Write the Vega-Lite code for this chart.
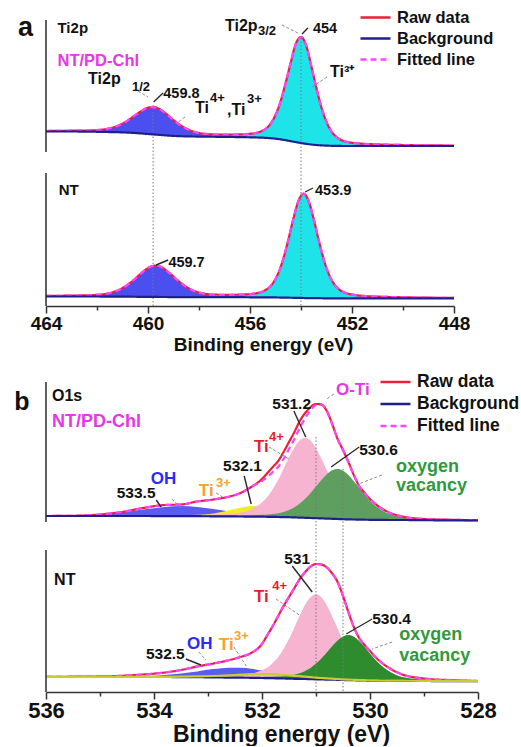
{
  "$schema": "https://vega.github.io/schema/vega-lite/v6.json",
  "padding": {"left": 14, "top": 9, "right": 0, "bottom": 0},
  "config": {
    "view": {"stroke": null},
    "axis": {"grid": false, "domainColor": "#333", "domainWidth": 1.5, "tickColor": "#333", "tickWidth": 1.5,
      "labelFont": "Liberation Sans", "labelFontWeight": "bold", "labelColor": "#111",
      "titleFont": "Liberation Sans", "titleFontWeight": "bold", "titleColor": "#111",
      "labelFlush": false, "labelOverlap": false},
    "legend": {"labelFont": "Liberation Sans", "labelFontWeight": "bold", "labelColor": "#111"}
  },
  "datasets": {
    "specA": [
      {"s":"NT/PD-Chl","e":464,"bg":174.5,"raw":175.0,"fit":175.0,"p1":174.9,"p2":174.6},
      {"s":"NT/PD-Chl","e":463,"bg":174.5,"raw":175.3,"fit":175.3,"p1":175.1,"p2":174.7},
      {"s":"NT/PD-Chl","e":462.2,"bg":174.3,"raw":175.6,"fit":175.6,"p1":175.4,"p2":174.5},
      {"s":"NT/PD-Chl","e":461.6,"bg":174.0,"raw":177.2,"fit":177.2,"p1":177.0,"p2":174.2},
      {"s":"NT/PD-Chl","e":461.2,"bg":173.8,"raw":180.0,"fit":180.0,"p1":179.7,"p2":174.1},
      {"s":"NT/PD-Chl","e":460.8,"bg":173.4,"raw":185.4,"fit":185.4,"p1":185.1,"p2":173.7},
      {"s":"NT/PD-Chl","e":460.4,"bg":172.8,"raw":192.6,"fit":192.6,"p1":192.3,"p2":173.1},
      {"s":"NT/PD-Chl","e":460.2,"bg":172.4,"raw":195.9,"fit":195.9,"p1":195.6,"p2":172.7},
      {"s":"NT/PD-Chl","e":460.0,"bg":172.0,"raw":198.3,"fit":198.3,"p1":198.0,"p2":172.3},
      {"s":"NT/PD-Chl","e":459.8,"bg":171.6,"raw":198.9,"fit":198.9,"p1":198.6,"p2":171.9},
      {"s":"NT/PD-Chl","e":459.6,"bg":171.2,"raw":197.6,"fit":197.6,"p1":197.2,"p2":171.6},
      {"s":"NT/PD-Chl","e":459.4,"bg":170.8,"raw":194.4,"fit":194.4,"p1":194.0,"p2":171.2},
      {"s":"NT/PD-Chl","e":459.2,"bg":170.4,"raw":190.3,"fit":190.3,"p1":189.9,"p2":170.8},
      {"s":"NT/PD-Chl","e":459.0,"bg":170.1,"raw":185.9,"fit":185.9,"p1":185.5,"p2":170.5},
      {"s":"NT/PD-Chl","e":458.6,"bg":169.7,"raw":178.7,"fit":178.7,"p1":178.1,"p2":170.3},
      {"s":"NT/PD-Chl","e":458.2,"bg":169.5,"raw":174.3,"fit":174.3,"p1":173.6,"p2":170.2},
      {"s":"NT/PD-Chl","e":457.6,"bg":169.3,"raw":171.8,"fit":171.8,"p1":170.8,"p2":170.3},
      {"s":"NT/PD-Chl","e":457.0,"bg":169.1,"raw":171.3,"fit":171.3,"p1":169.9,"p2":170.5},
      {"s":"NT/PD-Chl","e":456.4,"bg":168.9,"raw":171.6,"fit":171.6,"p1":169.5,"p2":171.0},
      {"s":"NT/PD-Chl","e":456.0,"bg":168.7,"raw":172.2,"fit":172.2,"p1":169.2,"p2":171.7},
      {"s":"NT/PD-Chl","e":455.6,"bg":168.4,"raw":174.3,"fit":174.3,"p1":168.8,"p2":173.9},
      {"s":"NT/PD-Chl","e":455.2,"bg":167.8,"raw":182.1,"fit":182.1,"p1":168.2,"p2":181.7},
      {"s":"NT/PD-Chl","e":455.0,"bg":167.3,"raw":191.0,"fit":191.0,"p1":167.6,"p2":190.7},
      {"s":"NT/PD-Chl","e":454.8,"bg":166.6,"raw":204.8,"fit":204.8,"p1":166.9,"p2":204.5},
      {"s":"NT/PD-Chl","e":454.6,"bg":165.8,"raw":223.3,"fit":223.3,"p1":166.1,"p2":223.0},
      {"s":"NT/PD-Chl","e":454.4,"bg":164.8,"raw":243.7,"fit":243.7,"p1":165.1,"p2":243.4},
      {"s":"NT/PD-Chl","e":454.2,"bg":163.9,"raw":262.5,"fit":262.5,"p1":164.2,"p2":262.2},
      {"s":"NT/PD-Chl","e":454.0,"bg":163.0,"raw":269.0,"fit":269.0,"p1":163.3,"p2":268.7},
      {"s":"NT/PD-Chl","e":453.8,"bg":162.2,"raw":260.8,"fit":260.8,"p1":162.5,"p2":260.5},
      {"s":"NT/PD-Chl","e":453.6,"bg":161.5,"raw":240.4,"fit":240.4,"p1":161.8,"p2":240.1},
      {"s":"NT/PD-Chl","e":453.4,"bg":161.0,"raw":218.5,"fit":218.5,"p1":161.3,"p2":218.2},
      {"s":"NT/PD-Chl","e":453.2,"bg":160.6,"raw":198.8,"fit":198.8,"p1":160.9,"p2":198.5},
      {"s":"NT/PD-Chl","e":453.0,"bg":160.4,"raw":184.1,"fit":184.1,"p1":160.7,"p2":183.8},
      {"s":"NT/PD-Chl","e":452.8,"bg":160.2,"raw":174.4,"fit":174.4,"p1":160.5,"p2":174.1},
      {"s":"NT/PD-Chl","e":452.6,"bg":160.1,"raw":168.8,"fit":168.8,"p1":160.3,"p2":168.6},
      {"s":"NT/PD-Chl","e":452.2,"bg":160.0,"raw":164.2,"fit":164.2,"p1":160.2,"p2":164.0},
      {"s":"NT/PD-Chl","e":451.6,"bg":160.0,"raw":162.3,"fit":162.3,"p1":160.2,"p2":162.1},
      {"s":"NT/PD-Chl","e":451.0,"bg":160.0,"raw":161.6,"fit":161.6,"p1":160.2,"p2":161.4},
      {"s":"NT/PD-Chl","e":450.0,"bg":160.0,"raw":161.0,"fit":161.0,"p1":160.2,"p2":160.8},
      {"s":"NT/PD-Chl","e":449.0,"bg":160.0,"raw":160.6,"fit":160.6,"p1":160.1,"p2":160.5},
      {"s":"NT/PD-Chl","e":448.0,"bg":160.0,"raw":160.5,"fit":160.5,"p1":160.1,"p2":160.4},
      {"s":"NT","e":464,"bg":9.5,"raw":10.1,"fit":10.1,"p1":10.0,"p2":9.6},
      {"s":"NT","e":463,"bg":9.5,"raw":10.4,"fit":10.4,"p1":10.2,"p2":9.7},
      {"s":"NT","e":462.1,"bg":9.5,"raw":11.0,"fit":11.0,"p1":10.8,"p2":9.7},
      {"s":"NT","e":461.5,"bg":9.4,"raw":13.0,"fit":13.0,"p1":12.8,"p2":9.6},
      {"s":"NT","e":461.1,"bg":9.4,"raw":16.5,"fit":16.5,"p1":16.2,"p2":9.7},
      {"s":"NT","e":460.7,"bg":9.3,"raw":23.0,"fit":23.0,"p1":22.7,"p2":9.6},
      {"s":"NT","e":460.3,"bg":9.2,"raw":31.9,"fit":31.9,"p1":31.6,"p2":9.5},
      {"s":"NT","e":460.1,"bg":9.2,"raw":36.1,"fit":36.1,"p1":35.8,"p2":9.5},
      {"s":"NT","e":459.9,"bg":9.1,"raw":39.3,"fit":39.3,"p1":39.0,"p2":9.4},
      {"s":"NT","e":459.7,"bg":9.1,"raw":40.4,"fit":40.4,"p1":40.1,"p2":9.4},
      {"s":"NT","e":459.5,"bg":9.0,"raw":39.3,"fit":39.3,"p1":38.9,"p2":9.4},
      {"s":"NT","e":459.3,"bg":9.0,"raw":35.9,"fit":35.9,"p1":35.6,"p2":9.3},
      {"s":"NT","e":459.1,"bg":8.9,"raw":31.7,"fit":31.7,"p1":31.3,"p2":9.3},
      {"s":"NT","e":458.9,"bg":8.9,"raw":27.0,"fit":27.0,"p1":26.6,"p2":9.3},
      {"s":"NT","e":458.5,"bg":8.9,"raw":19.1,"fit":19.1,"p1":18.5,"p2":9.5},
      {"s":"NT","e":458.1,"bg":8.8,"raw":14.2,"fit":14.2,"p1":13.5,"p2":9.5},
      {"s":"NT","e":457.5,"bg":8.8,"raw":11.5,"fit":11.5,"p1":10.5,"p2":9.8},
      {"s":"NT","e":456.9,"bg":8.8,"raw":11.1,"fit":11.1,"p1":9.7,"p2":10.2},
      {"s":"NT","e":456.3,"bg":8.8,"raw":11.5,"fit":11.5,"p1":9.4,"p2":10.9},
      {"s":"NT","e":455.9,"bg":8.7,"raw":12.2,"fit":12.2,"p1":9.2,"p2":11.7},
      {"s":"NT","e":455.5,"bg":8.7,"raw":14.6,"fit":14.6,"p1":9.1,"p2":14.2},
      {"s":"NT","e":455.1,"bg":8.6,"raw":22.9,"fit":22.9,"p1":9.0,"p2":22.5},
      {"s":"NT","e":454.9,"bg":8.5,"raw":32.3,"fit":32.3,"p1":8.9,"p2":31.9},
      {"s":"NT","e":454.7,"bg":8.4,"raw":46.7,"fit":46.7,"p1":8.8,"p2":46.3},
      {"s":"NT","e":454.5,"bg":8.3,"raw":65.9,"fit":65.9,"p1":8.7,"p2":65.5},
      {"s":"NT","e":454.3,"bg":8.2,"raw":87.2,"fit":87.2,"p1":8.6,"p2":86.8},
      {"s":"NT","e":454.1,"bg":8.1,"raw":105.1,"fit":105.1,"p1":8.4,"p2":104.8},
      {"s":"NT","e":453.9,"bg":8.0,"raw":112.3,"fit":112.3,"p1":8.3,"p2":112.0},
      {"s":"NT","e":453.7,"bg":7.9,"raw":104.9,"fit":104.9,"p1":8.2,"p2":104.6},
      {"s":"NT","e":453.5,"bg":7.8,"raw":86.7,"fit":86.7,"p1":8.1,"p2":86.4},
      {"s":"NT","e":453.3,"bg":7.8,"raw":65.3,"fit":65.3,"p1":8.1,"p2":65.0},
      {"s":"NT","e":453.1,"bg":7.7,"raw":45.9,"fit":45.9,"p1":8.0,"p2":45.6},
      {"s":"NT","e":452.9,"bg":7.7,"raw":31.4,"fit":31.4,"p1":8.0,"p2":31.1},
      {"s":"NT","e":452.7,"bg":7.7,"raw":21.9,"fit":21.9,"p1":8.0,"p2":21.6},
      {"s":"NT","e":452.5,"bg":7.7,"raw":16.5,"fit":16.5,"p1":8.0,"p2":16.2},
      {"s":"NT","e":452.1,"bg":7.7,"raw":12.0,"fit":12.0,"p1":8.0,"p2":11.7},
      {"s":"NT","e":451.5,"bg":7.7,"raw":10.0,"fit":10.0,"p1":7.9,"p2":9.8},
      {"s":"NT","e":450.9,"bg":7.7,"raw":9.3,"fit":9.3,"p1":7.9,"p2":9.1},
      {"s":"NT","e":450.0,"bg":7.7,"raw":8.7,"fit":8.7,"p1":7.9,"p2":8.5},
      {"s":"NT","e":449.0,"bg":7.7,"raw":8.3,"fit":8.3,"p1":7.8,"p2":8.2},
      {"s":"NT","e":448.0,"bg":7.7,"raw":8.2,"fit":8.2,"p1":7.8,"p2":8.1}
    ],
    "specB": [
      {"s":"NT/PD-Chl","e":536,"bg":176,"raw":176,"fit":176,"oh":176.4,"t3":176.1,"t4":176.2,"ov":176.2},
      {"s":"NT/PD-Chl","e":535.5,"bg":176,"raw":176.2,"fit":176.2,"oh":176.8,"t3":176.1,"t4":176.3,"ov":176.2},
      {"s":"NT/PD-Chl","e":535,"bg":176,"raw":177.5,"fit":177.5,"oh":177.9,"t3":176.1,"t4":176.4,"ov":176.2},
      {"s":"NT/PD-Chl","e":534.6,"bg":176,"raw":180,"fit":180,"oh":179.7,"t3":176.2,"t4":176.5,"ov":176.3},
      {"s":"NT/PD-Chl","e":534.2,"bg":176,"raw":184,"fit":184,"oh":182.5,"t3":176.2,"t4":176.6,"ov":176.3},
      {"s":"NT/PD-Chl","e":533.8,"bg":175.9,"raw":187,"fit":187,"oh":185.1,"t3":176.2,"t4":176.7,"ov":176.3},
      {"s":"NT/PD-Chl","e":533.5,"bg":175.9,"raw":187.5,"fit":187.5,"oh":185.9,"t3":176.4,"t4":176.9,"ov":176.4},
      {"s":"NT/PD-Chl","e":533.2,"bg":175.8,"raw":190.5,"fit":190.5,"oh":185.0,"t3":176.9,"t4":177.2,"ov":176.4},
      {"s":"NT/PD-Chl","e":532.9,"bg":175.7,"raw":192.5,"fit":192.5,"oh":183.0,"t3":178.6,"t4":177.5,"ov":176.4},
      {"s":"NT/PD-Chl","e":532.6,"bg":175.6,"raw":195.5,"fit":195.5,"oh":180.6,"t3":181.8,"t4":178.3,"ov":176.5},
      {"s":"NT/PD-Chl","e":532.4,"bg":175.5,"raw":199,"fit":199,"oh":179.2,"t3":184.3,"t4":179.3,"ov":176.6},
      {"s":"NT/PD-Chl","e":532.2,"bg":175.4,"raw":205,"fit":205,"oh":178.1,"t3":186.1,"t4":182.6,"ov":176.8},
      {"s":"NT/PD-Chl","e":532.0,"bg":175.3,"raw":213,"fit":211,"oh":177.2,"t3":186.0,"t4":189.7,"ov":177.2},
      {"s":"NT/PD-Chl","e":531.9,"bg":175.2,"raw":219,"fit":215,"oh":176.7,"t3":185.1,"t4":195.2,"ov":177.5},
      {"s":"NT/PD-Chl","e":531.8,"bg":175.1,"raw":225,"fit":220,"oh":176.4,"t3":183.9,"t4":203.1,"ov":178.0},
      {"s":"NT/PD-Chl","e":531.7,"bg":175.0,"raw":231,"fit":225,"oh":176.0,"t3":182.6,"t4":212.2,"ov":178.8},
      {"s":"NT/PD-Chl","e":531.6,"bg":174.9,"raw":240,"fit":233,"oh":175.8,"t3":181.1,"t4":223.3,"ov":180.1},
      {"s":"NT/PD-Chl","e":531.5,"bg":174.8,"raw":250,"fit":243,"oh":175.6,"t3":179.7,"t4":234.4,"ov":182.1},
      {"s":"NT/PD-Chl","e":531.4,"bg":174.6,"raw":260,"fit":253,"oh":175.3,"t3":178.3,"t4":244.6,"ov":184.8},
      {"s":"NT/PD-Chl","e":531.3,"bg":174.4,"raw":271,"fit":264,"oh":175.0,"t3":177.3,"t4":251.7,"ov":188.5},
      {"s":"NT/PD-Chl","e":531.2,"bg":174.2,"raw":279,"fit":274,"oh":174.7,"t3":176.3,"t4":254.2,"ov":193.3},
      {"s":"NT/PD-Chl","e":531.1,"bg":174.0,"raw":285,"fit":282,"oh":174.5,"t3":175.5,"t4":251.3,"ov":199.0},
      {"s":"NT/PD-Chl","e":531.0,"bg":173.8,"raw":288,"fit":287,"oh":174.3,"t3":174.9,"t4":243.8,"ov":205.4},
      {"s":"NT/PD-Chl","e":530.9,"bg":173.6,"raw":287.5,"fit":287.5,"oh":174.0,"t3":174.5,"t4":233.2,"ov":211.9},
      {"s":"NT/PD-Chl","e":530.8,"bg":173.4,"raw":281,"fit":281,"oh":173.8,"t3":174.1,"t4":221.8,"ov":217.7},
      {"s":"NT/PD-Chl","e":530.7,"bg":173.2,"raw":268,"fit":268,"oh":173.6,"t3":173.8,"t4":210.4,"ov":221.7},
      {"s":"NT/PD-Chl","e":530.6,"bg":173.0,"raw":253,"fit":253,"oh":173.4,"t3":173.5,"t4":201.0,"ov":223.0},
      {"s":"NT/PD-Chl","e":530.5,"bg":172.8,"raw":242,"fit":242,"oh":173.2,"t3":173.2,"t4":192.8,"ov":221.3},
      {"s":"NT/PD-Chl","e":530.4,"bg":172.6,"raw":230,"fit":230,"oh":172.9,"t3":173.0,"t4":187.0,"ov":216.9},
      {"s":"NT/PD-Chl","e":530.3,"bg":172.5,"raw":217,"fit":217,"oh":172.8,"t3":172.8,"t4":182.4,"ov":210.8},
      {"s":"NT/PD-Chl","e":530.2,"bg":172.4,"raw":206,"fit":206,"oh":172.7,"t3":172.7,"t4":179.6,"ov":204.0},
      {"s":"NT/PD-Chl","e":530.1,"bg":172.3,"raw":199,"fit":199,"oh":172.6,"t3":172.6,"t4":177.4,"ov":197.3},
      {"s":"NT/PD-Chl","e":530.0,"bg":172.2,"raw":193,"fit":193,"oh":172.5,"t3":172.5,"t4":176.0,"ov":191.3},
      {"s":"NT/PD-Chl","e":529.9,"bg":172.1,"raw":188,"fit":188,"oh":172.4,"t3":172.4,"t4":175.3,"ov":186.2},
      {"s":"NT/PD-Chl","e":529.8,"bg":172.1,"raw":184,"fit":184,"oh":172.4,"t3":172.3,"t4":174.8,"ov":182.3},
      {"s":"NT/PD-Chl","e":529.6,"bg":172.0,"raw":178.5,"fit":178.5,"oh":172.3,"t3":172.2,"t4":174.0,"ov":177.2},
      {"s":"NT/PD-Chl","e":529.4,"bg":172.0,"raw":175.5,"fit":175.5,"oh":172.2,"t3":172.2,"t4":173.6,"ov":174.9},
      {"s":"NT/PD-Chl","e":529.0,"bg":171.8,"raw":173,"fit":173,"oh":172.0,"t3":172.0,"t4":172.9,"ov":173.2},
      {"s":"NT/PD-Chl","e":528.5,"bg":171.6,"raw":172.2,"fit":172.2,"oh":171.8,"t3":171.7,"t4":172.4,"ov":172.4},
      {"s":"NT/PD-Chl","e":528.0,"bg":171.5,"raw":171.8,"fit":171.8,"oh":171.7,"t3":171.6,"t4":172.1,"ov":172.0},
      {"s":"NT","e":536,"bg":15,"raw":15.2,"fit":15.2,"oh":15.2,"t3":15.1,"t4":15.3,"ov":15.1},
      {"s":"NT","e":535.5,"bg":15,"raw":15.3,"fit":15.3,"oh":15.2,"t3":15.1,"t4":15.3,"ov":15.2},
      {"s":"NT","e":535,"bg":15,"raw":15.6,"fit":15.6,"oh":15.3,"t3":15.1,"t4":15.4,"ov":15.2},
      {"s":"NT","e":534.6,"bg":15,"raw":16.2,"fit":16.2,"oh":15.5,"t3":15.1,"t4":15.5,"ov":15.2},
      {"s":"NT","e":534.2,"bg":15,"raw":17.5,"fit":17.5,"oh":15.9,"t3":15.1,"t4":15.6,"ov":15.3},
      {"s":"NT","e":533.8,"bg":15,"raw":19.5,"fit":19.5,"oh":17.0,"t3":15.2,"t4":15.7,"ov":15.3},
      {"s":"NT","e":533.5,"bg":14.9,"raw":22,"fit":22,"oh":18.5,"t3":15.3,"t4":15.8,"ov":15.3},
      {"s":"NT","e":533.2,"bg":14.8,"raw":25.5,"fit":25.5,"oh":20.6,"t3":15.6,"t4":16.0,"ov":15.2},
      {"s":"NT","e":532.9,"bg":14.6,"raw":28.5,"fit":28.5,"oh":22.9,"t3":16.0,"t4":16.1,"ov":15.1},
      {"s":"NT","e":532.6,"bg":14.4,"raw":32,"fit":32,"oh":24.3,"t3":16.7,"t4":16.5,"ov":15.0},
      {"s":"NT","e":532.4,"bg":14.3,"raw":35,"fit":35,"oh":24.2,"t3":17.3,"t4":17.2,"ov":15.1},
      {"s":"NT","e":532.2,"bg":14.2,"raw":39,"fit":39,"oh":23.2,"t3":17.8,"t4":18.3,"ov":15.1},
      {"s":"NT","e":532.0,"bg":14.0,"raw":48,"fit":48,"oh":21.5,"t3":18.0,"t4":21.7,"ov":15.1},
      {"s":"NT","e":531.9,"bg":13.9,"raw":57,"fit":57,"oh":20.6,"t3":17.9,"t4":24.4,"ov":15.2},
      {"s":"NT","e":531.8,"bg":13.8,"raw":66,"fit":66,"oh":19.6,"t3":17.8,"t4":29.1,"ov":15.3},
      {"s":"NT","e":531.7,"bg":13.6,"raw":76,"fit":76,"oh":18.6,"t3":17.4,"t4":34.9,"ov":15.4},
      {"s":"NT","e":531.6,"bg":13.5,"raw":86,"fit":86,"oh":17.8,"t3":17.1,"t4":43.3,"ov":15.7},
      {"s":"NT","e":531.5,"bg":13.4,"raw":95,"fit":95,"oh":17.0,"t3":16.7,"t4":52.9,"ov":16.3},
      {"s":"NT","e":531.4,"bg":13.2,"raw":104,"fit":104,"oh":16.1,"t3":16.2,"t4":64.6,"ov":17.2},
      {"s":"NT","e":531.3,"bg":13.1,"raw":113,"fit":113,"oh":15.5,"t3":15.8,"t4":76.4,"ov":18.7},
      {"s":"NT","e":531.2,"bg":13.0,"raw":120,"fit":120,"oh":15.0,"t3":15.3,"t4":87.4,"ov":21.1},
      {"s":"NT","e":531.1,"bg":12.8,"raw":125.5,"fit":125.5,"oh":14.4,"t3":14.8,"t4":94.9,"ov":24.1},
      {"s":"NT","e":531.0,"bg":12.7,"raw":128,"fit":128,"oh":14.0,"t3":14.4,"t4":97.7,"ov":28.4},
      {"s":"NT","e":530.9,"bg":12.6,"raw":127.5,"fit":127.5,"oh":13.6,"t3":14.0,"t4":94.7,"ov":33.5},
      {"s":"NT","e":530.8,"bg":12.4,"raw":124.5,"fit":124.5,"oh":13.3,"t3":13.6,"t4":86.8,"ov":39.6},
      {"s":"NT","e":530.7,"bg":12.3,"raw":118.5,"fit":118.5,"oh":13.1,"t3":13.3,"t4":75.6,"ov":45.8},
      {"s":"NT","e":530.6,"bg":12.2,"raw":110,"fit":110,"oh":12.9,"t3":13.0,"t4":63.6,"ov":51.6},
      {"s":"NT","e":530.5,"bg":12.0,"raw":96,"fit":96,"oh":12.6,"t3":12.6,"t4":51.5,"ov":55.5},
      {"s":"NT","e":530.4,"bg":11.9,"raw":80,"fit":80,"oh":12.4,"t3":12.4,"t4":41.7,"ov":56.9},
      {"s":"NT","e":530.3,"bg":11.8,"raw":65,"fit":65,"oh":12.3,"t3":12.2,"t4":33.1,"ov":55.3},
      {"s":"NT","e":530.2,"bg":11.6,"raw":54,"fit":54,"oh":12.0,"t3":12.0,"t4":26.9,"ov":51.0},
      {"s":"NT","e":530.1,"bg":11.5,"raw":47,"fit":47,"oh":11.9,"t3":11.8,"t4":22.0,"ov":45.0},
      {"s":"NT","e":530.0,"bg":11.4,"raw":41,"fit":41,"oh":11.8,"t3":11.7,"t4":19.1,"ov":38.6},
      {"s":"NT","e":529.9,"bg":11.3,"raw":35,"fit":35,"oh":11.6,"t3":11.6,"t4":16.7,"ov":32.2},
      {"s":"NT","e":529.8,"bg":11.3,"raw":30,"fit":30,"oh":11.6,"t3":11.5,"t4":15.4,"ov":27.0},
      {"s":"NT","e":529.6,"bg":11.2,"raw":22.5,"fit":22.5,"oh":11.5,"t3":11.4,"t4":14.1,"ov":19.3},
      {"s":"NT","e":529.4,"bg":11.1,"raw":17.5,"fit":17.5,"oh":11.4,"t3":11.3,"t4":13.2,"ov":15.1},
      {"s":"NT","e":529.0,"bg":11.0,"raw":13.5,"fit":13.5,"oh":11.2,"t3":11.1,"t4":12.5,"ov":12.5},
      {"s":"NT","e":528.5,"bg":10.9,"raw":11.8,"fit":11.8,"oh":11.1,"t3":11.0,"t4":11.9,"ov":11.7},
      {"s":"NT","e":528.0,"bg":10.8,"raw":11,"fit":11,"oh":10.9,"t3":10.9,"t4":11.5,"ov":11.3}
    ],
    "textA": [
      {"g":"panel","t":"a","e":465.1,"v":270},
      {"g":"name","t":"Ti2p","e":463.55,"v":273},
      {"g":"sample","t":"NT/PD-Chl","e":463.55,"v":240},
      {"g":"peak","t":"Ti2p","e":462.35,"v":222},
      {"g":"peak","t":"1/2","e":460.63,"v":215,"k":"sup"},
      {"g":"value","t":"459.8","e":459.4,"v":208},
      {"g":"peak","t":"Ti","e":458.16,"v":193},
      {"g":"peak","t":"4+","e":457.57,"v":204,"k":"sup"},
      {"g":"peak","t":",Ti","e":456.9,"v":191},
      {"g":"peak","t":"3+","e":456.12,"v":203,"k":"sup"},
      {"g":"peak","t":"Ti2p","e":456.98,"v":275},
      {"g":"peak","t":"3/2","e":455.69,"v":271,"k":"sup"},
      {"g":"value","t":"454","e":453.53,"v":273},
      {"g":"peak","t":"Ti³⁺","e":452.86,"v":229},
      {"g":"name","t":"NT","e":463.5,"v":111},
      {"g":"value","t":"459.7","e":459.2,"v":39},
      {"g":"value","t":"453.9","e":453.45,"v":111}
    ],
    "ruleA": [
      {"g":"guide","e":459.8,"v":201,"e2":459.8,"v2":0},
      {"g":"guide","e":454,"v":268,"e2":454,"v2":0},
      {"g":"axis","e":464,"v":0,"e2":464,"v2":133},
      {"g":"axis","e":464,"v":154,"e2":464,"v2":286},
      {"g":"arrow","e":459.41,"v":213,"e2":459.78,"v2":204},
      {"g":"arrow","e":453.73,"v":278,"e2":453.96,"v2":272},
      {"g":"arrow","e":459.21,"v":46,"e2":459.68,"v2":41},
      {"g":"arrow","e":453.53,"v":118,"e2":453.84,"v2":114},
      {"g":"leader","e":460.39,"v":215,"e2":460.0,"v2":209},
      {"g":"leader","e":458.55,"v":189,"e2":458.82,"v2":184},
      {"g":"leader","e":454.75,"v":281,"e2":454.12,"v2":273},
      {"g":"leader","e":452.98,"v":229,"e2":453.57,"v2":219}
    ],
    "textB": [
      {"g":"panel","t":"b","e":536.59,"v":282},
      {"g":"name","t":"O1s","e":535.89,"v":291},
      {"g":"sample","t":"NT/PD-Chl","e":535.89,"v":265},
      {"g":"value","t":"533.5","e":534.69,"v":194},
      {"g":"OH","t":"OH","e":534.06,"v":208},
      {"g":"Ti3+","t":"Ti","e":533.17,"v":196},
      {"g":"Ti3+","t":"3+","e":532.85,"v":205,"k":"sup"},
      {"g":"value","t":"532.1","e":532.72,"v":221},
      {"g":"Ti4+","t":"Ti","e":532.15,"v":240},
      {"g":"Ti4+","t":"4+","e":531.87,"v":251,"k":"sup"},
      {"g":"value","t":"531.2","e":531.81,"v":283},
      {"g":"O-Ti","t":"O-Ti","e":530.63,"v":297},
      {"g":"value","t":"530.6","e":530.2,"v":237},
      {"g":"vacancy","t":"oxygen","e":529.52,"v":220},
      {"g":"vacancy","t":"vacancy","e":529.52,"v":201},
      {"g":"name","t":"NT","e":535.85,"v":107},
      {"g":"value","t":"531","e":531.59,"v":128},
      {"g":"Ti4+","t":"Ti","e":532.15,"v":90},
      {"g":"Ti4+","t":"4+","e":531.81,"v":102,"k":"sup"},
      {"g":"value","t":"530.4","e":529.96,"v":68},
      {"g":"vacancy","t":"oxygen","e":529.46,"v":52},
      {"g":"vacancy","t":"vacancy","e":529.46,"v":31},
      {"g":"value","t":"532.5","e":534.15,"v":33},
      {"g":"OH","t":"OH","e":533.39,"v":43},
      {"g":"Ti3+","t":"Ti","e":532.8,"v":42},
      {"g":"Ti3+","t":"3+","e":532.52,"v":52,"k":"sup"}
    ],
    "ruleB": [
      {"g":"guide","e":531.0,"v":255,"e2":531.0,"v2":0},
      {"g":"guide","e":530.5,"v":223,"e2":530.5,"v2":0},
      {"g":"axis","e":536,"v":0,"e2":536,"v2":142},
      {"g":"axis","e":536,"v":170,"e2":536,"v2":310},
      {"g":"arrow","e":533.96,"v":192,"e2":533.87,"v2":185},
      {"g":"arrow","e":532.33,"v":216,"e2":532.2,"v2":188},
      {"g":"arrow","e":531.41,"v":281,"e2":531.19,"v2":255},
      {"g":"arrow","e":530.2,"v":245,"e2":530.72,"v2":225},
      {"g":"arrow","e":531.44,"v":126,"e2":531.07,"v2":100},
      {"g":"arrow","e":529.96,"v":73,"e2":530.44,"v2":58},
      {"g":"arrow","e":533.41,"v":33,"e2":533.13,"v2":27},
      {"g":"leader","e":533.67,"v":193,"e2":533.48,"v2":183},
      {"g":"leader","e":532.85,"v":199,"e2":532.67,"v2":193},
      {"g":"leader","e":531.87,"v":245,"e2":531.5,"v2":233},
      {"g":"leader","e":530.67,"v":298,"e2":530.8,"v2":293},
      {"g":"leader","e":529.78,"v":217,"e2":530.26,"v2":207},
      {"g":"leader","e":531.74,"v":93,"e2":531.31,"v2":77},
      {"g":"leader","e":529.59,"v":50,"e2":529.96,"v2":43},
      {"g":"leader","e":533.17,"v":40,"e2":533.04,"v2":32},
      {"g":"leader","e":532.52,"v":45,"e2":532.28,"v2":25}
    ]
  },
  "spacing": 19,
  "resolve": {
    "scale": {"x": "independent", "y": "independent", "color": "independent", "strokeDash": "independent", "fill": "independent"},
    "legend": {"color": "independent", "strokeDash": "independent"}
  },
  "vconcat": [
    {
      "width": 408,
      "height": 286,
      "encoding": {
        "x": {"field": "e", "type": "quantitative",
          "scale": {"domain": [448, 464], "reverse": true, "nice": false, "zero": false},
          "axis": {"values": [448, 450, 452, 454, 456, 458, 460, 462, 464],
            "labelExpr": "datum.value % 4 === 0 ? datum.label : ''",
            "tickSize": {"condition": {"test": "datum.value % 4 === 0", "value": 7}, "value": 4},
            "labelFontSize": 19, "labelPadding": 1,
            "title": "Binding energy (eV)", "titleFontSize": 19, "titlePadding": 2, "titleX": 217}}
      },
      "layer": [
        {"data": {"name": "specA"},
         "mark": {"type": "area", "interpolate": "monotone", "color": "#4b4ff0"},
         "encoding": {
           "y": {"field": "p1", "type": "quantitative", "scale": {"domain": [0, 286], "nice": false, "zero": false},
             "axis": {"values": [0, 19, 38, 57, 76, 95, 114, 133, 154, 173, 192, 211, 230, 249, 268, 286],
               "labels": false, "domain": false, "tickSize": 4,
               "title": "Intensity (a.u.)", "titleFontSize": 21.5, "titlePadding": 8, "titleY": 151}},
           "y2": {"field": "bg"}, "detail": {"field": "s"}}},
        {"data": {"name": "specA"},
         "mark": {"type": "area", "interpolate": "monotone", "color": "#1ee3e8"},
         "encoding": {
           "y": {"field": "p2", "type": "quantitative", "scale": {"domain": [0, 286], "nice": false}, "axis": null},
           "y2": {"field": "bg"}, "detail": {"field": "s"}}},
        {"data": {"name": "ruleA"},
         "transform": [{"filter": "datum.g === 'guide'"}],
         "mark": {"type": "rule", "color": "#7a7a7a", "strokeWidth": 1, "strokeDash": [1.5, 2]},
         "encoding": {"x2": {"field": "e2"},
           "y": {"field": "v", "type": "quantitative", "scale": {"domain": [0, 286], "nice": false}, "axis": null},
           "y2": {"field": "v2"}}},
        {"data": {"name": "specA"},
         "transform": [{"fold": ["raw", "fit", "bg"], "as": ["k", "v"]}],
         "mark": {"type": "line", "interpolate": "monotone", "strokeWidth": 2.2},
         "encoding": {
           "y": {"field": "v", "type": "quantitative", "scale": {"domain": [0, 286], "nice": false}, "axis": null},
           "detail": {"field": "s"},
           "color": {"field": "k", "type": "nominal",
             "scale": {"domain": ["raw", "bg", "fit"], "range": ["#e8203a", "#1f1f8f", "#ff44ff"]},
             "legend": {"orient": "none", "legendX": 313, "legendY": -11, "title": null,
               "labelExpr": "datum.label === 'raw' ? 'Raw data' : datum.label === 'bg' ? 'Background' : 'Fitted line'",
               "symbolType": "stroke", "symbolSize": 900, "symbolStrokeWidth": 2.5,
               "labelFontSize": 16.5, "labelOffset": 5, "clipHeight": 17, "rowPadding": 4}},
           "strokeDash": {"field": "k", "type": "nominal",
             "scale": {"domain": ["raw", "bg", "fit"], "range": [[1, 0], [1, 0], [6, 4]]},
             "legend": {"orient": "none", "legendX": 313, "legendY": -11, "title": null,
               "labelExpr": "datum.label === 'raw' ? 'Raw data' : datum.label === 'bg' ? 'Background' : 'Fitted line'",
               "symbolType": "stroke", "symbolSize": 900, "symbolStrokeWidth": 2.5,
               "labelFontSize": 16.5, "labelOffset": 5, "clipHeight": 17, "rowPadding": 4}}}},
        {"data": {"name": "ruleA"},
         "transform": [{"filter": "datum.g === 'axis' || datum.g === 'arrow'"}],
         "mark": {"type": "rule", "color": "#2a2a2a"},
         "encoding": {"x2": {"field": "e2"},
           "y": {"field": "v", "type": "quantitative", "scale": {"domain": [0, 286], "nice": false}, "axis": null},
           "y2": {"field": "v2"},
           "strokeWidth": {"condition": {"test": "datum.g === 'axis'", "value": 1.5}, "value": 1.4}}},
        {"data": {"name": "ruleA"},
         "transform": [{"filter": "datum.g === 'leader'"}],
         "mark": {"type": "rule", "color": "#8c8c8c", "strokeWidth": 1, "strokeDash": [3, 2]},
         "encoding": {"x2": {"field": "e2"},
           "y": {"field": "v", "type": "quantitative", "scale": {"domain": [0, 286], "nice": false}, "axis": null},
           "y2": {"field": "v2"}}},
        {"data": {"name": "textA"},
         "mark": {"type": "text", "align": "left", "baseline": "alphabetic", "font": "Liberation Sans", "fontWeight": "bold",
           "fontSize": {"expr": "datum.k === 'sup' ? 13 : datum.g === 'panel' ? 27 : datum.g === 'sample' ? 16.5 : datum.g === 'value' ? 14.5 : datum.g === 'name' ? 15 : 16"}},
         "encoding": {
           "y": {"field": "v", "type": "quantitative", "scale": {"domain": [0, 286], "nice": false}, "axis": null},
           "text": {"field": "t"},
           "fill": {"field": "g", "type": "nominal",
             "scale": {"domain": ["panel", "name", "sample", "value", "peak"], "range": ["#111111", "#111111", "#e836e8", "#111111", "#111111"]},
             "legend": null}}}
      ]
    },
    {
      "width": 432,
      "height": 310,
      "encoding": {
        "x": {"field": "e", "type": "quantitative",
          "scale": {"domain": [528, 536], "reverse": true, "nice": false, "zero": false},
          "axis": {"values": [528, 529, 530, 531, 532, 533, 534, 535, 536],
            "labelExpr": "datum.value % 2 === 0 ? datum.label : ''",
            "tickSize": {"condition": {"test": "datum.value % 2 === 0", "value": 7}, "value": 4},
            "labelFontSize": 22, "labelPadding": 1,
            "title": "Binding energy (eV)", "titleFontSize": 23, "titlePadding": 2, "titleX": 235}}
      },
      "layer": [
        {"data": {"name": "specB"},
         "mark": {"type": "area", "interpolate": "monotone", "color": "#5a5cf0"},
         "encoding": {
           "y": {"field": "oh", "type": "quantitative", "scale": {"domain": [0, 310], "nice": false, "zero": false},
             "axis": {"values": [0, 20, 40, 60, 80, 100, 120, 140, 170, 190, 210, 230, 250, 270, 290, 310],
               "labels": false, "domain": false, "tickSize": 4,
               "title": "Intensity (a.u.)", "titleFontSize": 23, "titlePadding": 8, "titleY": 165}},
           "y2": {"field": "bg"}, "detail": {"field": "s"}}},
        {"data": {"name": "specB"},
         "mark": {"type": "area", "interpolate": "monotone", "color": "#eeee22"},
         "encoding": {
           "y": {"field": "t3", "type": "quantitative", "scale": {"domain": [0, 310], "nice": false}, "axis": null},
           "y2": {"field": "bg"}, "detail": {"field": "s"}}},
        {"data": {"name": "specB"},
         "mark": {"type": "area", "interpolate": "monotone", "color": "#f6b4d0"},
         "encoding": {
           "y": {"field": "t4", "type": "quantitative", "scale": {"domain": [0, 310], "nice": false}, "axis": null},
           "y2": {"field": "bg"}, "detail": {"field": "s"}}},
        {"data": {"name": "specB"},
         "mark": {"type": "area", "interpolate": "monotone"},
         "encoding": {
           "y": {"field": "ov", "type": "quantitative", "scale": {"domain": [0, 310], "nice": false}, "axis": null},
           "y2": {"field": "bg"}, "detail": {"field": "s"},
           "color": {"condition": {"test": "datum.s === 'NT'", "value": "#2e8b2e"}, "value": "#5e9e5e"}}},
        {"data": {"name": "ruleB"},
         "transform": [{"filter": "datum.g === 'guide'"}],
         "mark": {"type": "rule", "color": "#7a7a7a", "strokeWidth": 1, "strokeDash": [1.5, 2]},
         "encoding": {"x2": {"field": "e2"},
           "y": {"field": "v", "type": "quantitative", "scale": {"domain": [0, 310], "nice": false}, "axis": null},
           "y2": {"field": "v2"}}},
        {"data": {"name": "specB"},
         "transform": [{"fold": ["raw", "fit", "bg"], "as": ["k", "v"]}],
         "mark": {"type": "line", "interpolate": "monotone", "strokeWidth": 2.2},
         "encoding": {
           "y": {"field": "v", "type": "quantitative", "scale": {"domain": [0, 310], "nice": false}, "axis": null},
           "detail": {"field": "s"},
           "color": {"field": "k", "type": "nominal",
             "scale": {"domain": ["raw", "bg", "fit"], "range": ["#e8203a", "#1f1f8f", "#ff44ff"]},
             "legend": {"orient": "none", "legendX": 333, "legendY": -9, "title": null,
               "labelExpr": "datum.label === 'raw' ? 'Raw data' : datum.label === 'bg' ? 'Background' : 'Fitted line'",
               "symbolType": "stroke", "symbolSize": 900, "symbolStrokeWidth": 2.5,
               "labelFontSize": 17.5, "labelOffset": 5, "clipHeight": 18, "rowPadding": 4}},
           "strokeDash": {"field": "k", "type": "nominal",
             "scale": {"domain": ["raw", "bg", "fit"], "range": [[1, 0], [1, 0], [6, 4]]},
             "legend": {"orient": "none", "legendX": 333, "legendY": -9, "title": null,
               "labelExpr": "datum.label === 'raw' ? 'Raw data' : datum.label === 'bg' ? 'Background' : 'Fitted line'",
               "symbolType": "stroke", "symbolSize": 900, "symbolStrokeWidth": 2.5,
               "labelFontSize": 17.5, "labelOffset": 5, "clipHeight": 18, "rowPadding": 4}}}},
        {"data": {"name": "specB"},
         "transform": [{"filter": "datum.s === 'NT'"}],
         "mark": {"type": "line", "interpolate": "monotone", "color": "#c8cc30", "strokeWidth": 2.2},
         "encoding": {
           "y": {"field": "t3", "type": "quantitative", "scale": {"domain": [0, 310], "nice": false}, "axis": null}}},
        {"data": {"name": "ruleB"},
         "transform": [{"filter": "datum.g === 'axis' || datum.g === 'arrow'"}],
         "mark": {"type": "rule", "color": "#2a2a2a"},
         "encoding": {"x2": {"field": "e2"},
           "y": {"field": "v", "type": "quantitative", "scale": {"domain": [0, 310], "nice": false}, "axis": null},
           "y2": {"field": "v2"},
           "strokeWidth": {"condition": {"test": "datum.g === 'axis'", "value": 1.5}, "value": 1.4}}},
        {"data": {"name": "ruleB"},
         "transform": [{"filter": "datum.g === 'leader'"}],
         "mark": {"type": "rule", "color": "#8c8c8c", "strokeWidth": 1, "strokeDash": [3, 2]},
         "encoding": {"x2": {"field": "e2"},
           "y": {"field": "v", "type": "quantitative", "scale": {"domain": [0, 310], "nice": false}, "axis": null},
           "y2": {"field": "v2"}}},
        {"data": {"name": "textB"},
         "mark": {"type": "text", "align": "left", "baseline": "alphabetic", "font": "Liberation Sans", "fontWeight": "bold",
           "fontSize": {"expr": "datum.k === 'sup' ? 13 : datum.g === 'panel' ? 25 : datum.g === 'sample' ? 18 : datum.g === 'value' ? 15.5 : datum.g === 'name' ? 16 : datum.g === 'vacancy' ? 18 : 17"}},
         "encoding": {
           "y": {"field": "v", "type": "quantitative", "scale": {"domain": [0, 310], "nice": false}, "axis": null},
           "text": {"field": "t"},
           "fill": {"field": "g", "type": "nominal",
             "scale": {"domain": ["panel", "name", "sample", "value", "OH", "Ti3+", "Ti4+", "O-Ti", "vacancy"],
               "range": ["#111111", "#111111", "#e836e8", "#111111", "#2b2bf5", "#f5a030", "#ea1c2c", "#e836e8", "#2f9a3c"]},
             "legend": null}}}
      ]
    }
  ]
}
